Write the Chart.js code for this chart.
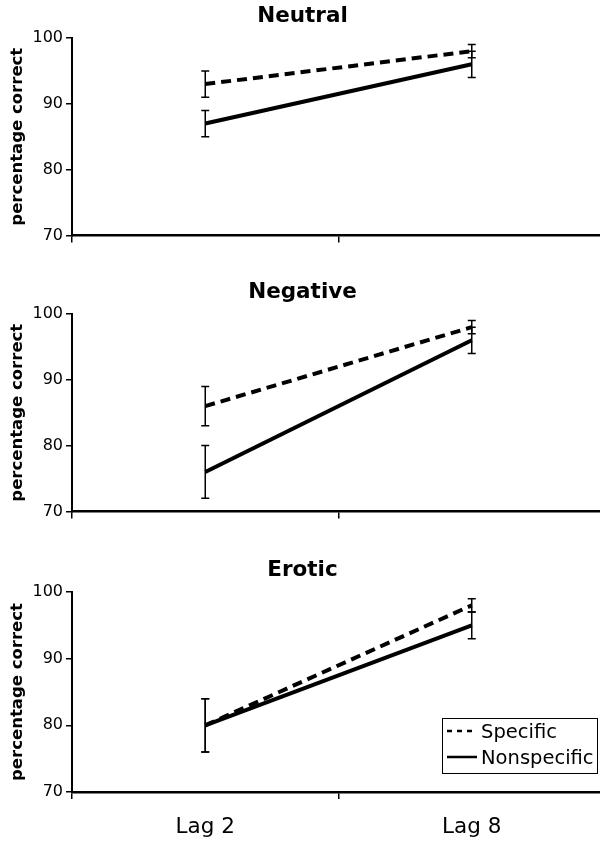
<!DOCTYPE html>
<html>
<head>
<meta charset="utf-8">
<script src="https://cdn.jsdelivr.net/npm/chart.js@4"></script>
<style>
  html, body { margin: 0; padding: 0; background: #fff; }
  #wrap { position: relative; width: 600px; height: 841px; overflow: hidden; }
  canvas { position: absolute; left: 0; }
</style>
</head>
<body>
<div id="wrap">
  <canvas id="neutral" width="605" height="248" style="top:0px;width:605px;height:248px"></canvas>
  <canvas id="negative" width="605" height="248" style="top:276px;width:605px;height:248px"></canvas>
  <canvas id="erotic" width="605" height="287" style="top:554px;width:605px;height:287px"></canvas>
</div>
<script>
// categories on the x axis
const lags = ['Lag 2', 'Lag 8'];
const yTicks = [70, 80, 90, 100];

// Neutral panel
const neutralSpecific = [93, 98];
const neutralSpecificErr = [2, 1];
const neutralNonspecific = [87, 96];
const neutralNonspecificErr = [2, 2];

// Negative panel
const negativeSpecific = [86, 98];
const negativeSpecificErr = [3, 1];
const negativeNonspecific = [76, 96];
const negativeNonspecificErr = [4, 2];

// Erotic panel
const eroticSpecific = [80, 98];
const eroticSpecificErr = [4, 1];
const eroticNonspecific = [80, 95];
const eroticNonspecificErr = [4, 2];

Chart.defaults.font.family = '"DejaVu Sans", Verdana, sans-serif';
Chart.defaults.color = '#000';

// draw error bars from each dataset's errors array
const errorBars = {
  id: 'errorBars',
  afterDatasetsDraw(chart) {
    const ctx = chart.ctx;
    const x = chart.scales.x, y = chart.scales.y;
    ctx.save();
    ctx.strokeStyle = '#000';
    ctx.lineWidth = 1.5;
    chart.data.datasets.forEach(ds => {
      if (!ds.errors) return;
      ds.data.forEach((v, i) => {
        const px = x.getPixelForValue(i);
        const top = y.getPixelForValue(v + ds.errors[i]);
        const bot = y.getPixelForValue(v - ds.errors[i]);
        ctx.beginPath();
        ctx.moveTo(px, top); ctx.lineTo(px, bot);
        ctx.moveTo(px - 4, top); ctx.lineTo(px + 4, top);
        ctx.moveTo(px - 4, bot); ctx.lineTo(px + 4, bot);
        ctx.stroke();
      });
    });
    ctx.restore();
  }
};

// boxed legend inside the plot (bottom panel only)
const boxLegend = {
  id: 'boxLegend',
  afterDraw(chart, args, opts) {
    if (!opts.show) return;
    const ctx = chart.ctx;
    const a = chart.chartArea;
    const bx = a.right - 163, by = a.bottom - 74, bw = 155, bh = 55;
    ctx.save();
    ctx.fillStyle = '#fff';
    ctx.fillRect(bx, by, bw, bh);
    ctx.strokeStyle = '#000';
    ctx.lineWidth = 1;
    ctx.strokeRect(bx + 0.5, by + 0.5, bw, bh);
    ctx.font = '19.5px "DejaVu Sans", Verdana, sans-serif';
    ctx.fillStyle = '#000';
    ctx.textBaseline = 'alphabetic';
    chart.data.datasets.forEach((ds, i) => {
      const cy = by + 13 + i * 26;
      ctx.beginPath();
      ctx.lineWidth = 2.5;
      ctx.setLineDash(ds.borderDash && ds.borderDash.length ? [5, 5] : []);
      ctx.moveTo(bx + 5, cy); ctx.lineTo(bx + 35, cy);
      ctx.stroke();
      ctx.setLineDash([]);
      ctx.fillText(ds.label, bx + 39, cy + 6.5);
    });
    ctx.restore();
  }
};

function makePanel(id, title, spec, specErr, nonspec, nonspecErr, bottom) {
  new Chart(document.getElementById(id), {
    type: 'line',
    data: {
      labels: lags,
      datasets: [
        {
          label: 'Specific',
          data: spec,
          errors: specErr,
          borderColor: '#000',
          borderWidth: 4,
          borderDash: [10, 6],
          pointRadius: 0,
          tension: 0,
          fill: false
        },
        {
          label: 'Nonspecific',
          data: nonspec,
          errors: nonspecErr,
          borderColor: '#000',
          borderWidth: 4,
          pointRadius: 0,
          tension: 0,
          fill: false
        }
      ]
    },
    options: {
      responsive: false,
      animation: false,
      layout: { padding: 0 },
      plugins: {
        legend: { display: false },
        tooltip: { enabled: false },
        title: {
          display: true,
          text: title,
          color: '#000',
          font: { size: 21.5, weight: 'bold' },
          padding: { top: 4, bottom: 8.2 }
        },
        boxLegend: { show: bottom }
      },
      scales: {
        x: {
          type: 'category',
          offset: true,
          grid: {
            offset: true,
            drawOnChartArea: false,
            drawTicks: true,
            tickLength: 7,
            color: '#000',
            lineWidth: 1.5
          },
          border: { display: true, color: '#000', width: 2.5 },
          ticks: {
            display: bottom,
            color: '#000',
            font: { size: 21.5 },
            padding: 16
          },
          afterFit(scale) { scale.height = bottom ? 49 : 10; }
        },
        y: {
          min: 70,
          max: 100,
          afterBuildTicks(scale) { scale.ticks = yTicks.map(v => ({ value: v })); },
          grid: {
            drawOnChartArea: false,
            drawTicks: true,
            tickLength: 6,
            color: '#000',
            lineWidth: 1.5
          },
          border: { display: true, color: '#000', width: 2 },
          ticks: { color: '#000', font: { size: 16 }, padding: 3 },
          title: {
            display: true,
            text: 'percentage correct',
            color: '#000',
            font: { size: 16.5, weight: 'bold' },
            padding: { top: 8, bottom: 4 }
          },
          afterFit(scale) { scale.width = 72; }
        }
      }
    },
    plugins: [errorBars, boxLegend]
  });
}

makePanel('neutral', 'Neutral', neutralSpecific, neutralSpecificErr, neutralNonspecific, neutralNonspecificErr, false);
makePanel('negative', 'Negative', negativeSpecific, negativeSpecificErr, negativeNonspecific, negativeNonspecificErr, false);
makePanel('erotic', 'Erotic', eroticSpecific, eroticSpecificErr, eroticNonspecific, eroticNonspecificErr, true);
</script>
</body>
</html>
